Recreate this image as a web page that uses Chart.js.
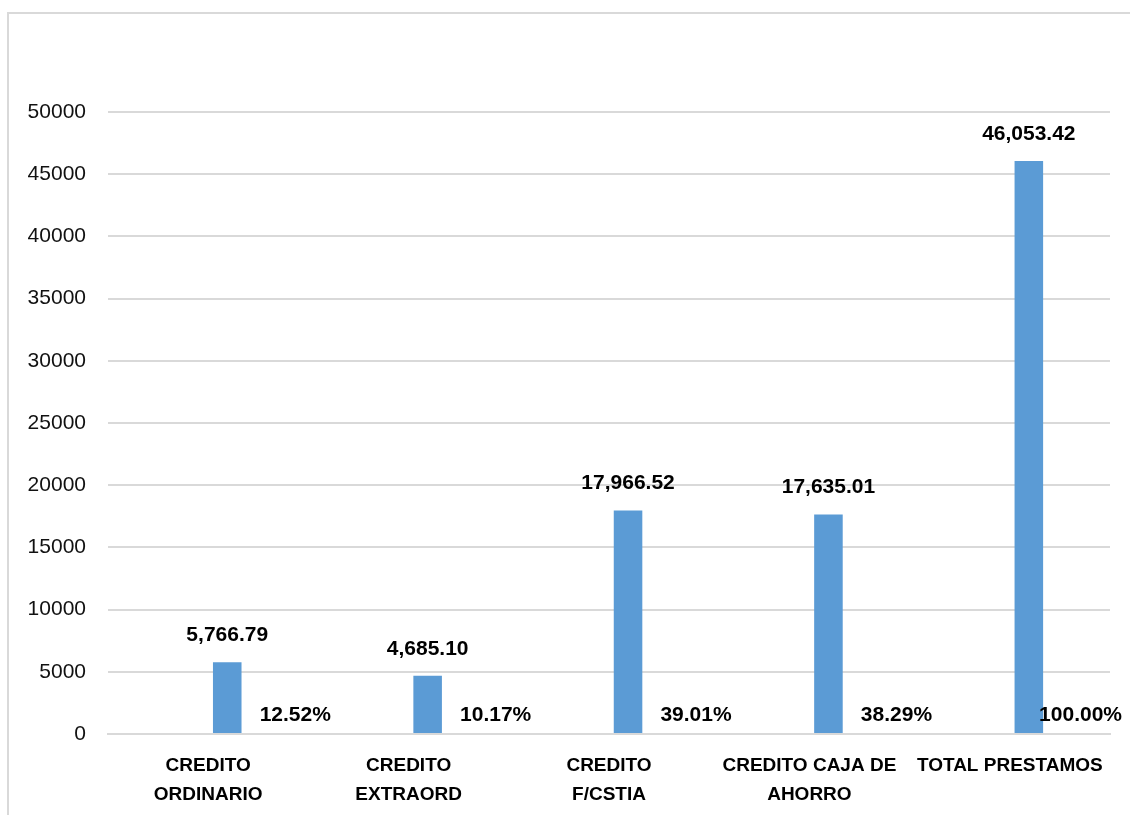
<!DOCTYPE html>
<html>
<head>
<meta charset="utf-8">
<script src="https://cdn.jsdelivr.net/npm/chart.js@4.4.0/dist/chart.umd.min.js"></script>
<style>
  html, body { margin: 0; padding: 0; background: #fff; overflow: hidden; }
  #frame {
    position: absolute; left: 7px; top: 12px; width: 1140px; height: 820px;
    border: 2px solid #d9d9d9; box-sizing: border-box;
  }
  #wrap { position: absolute; left: 0; top: 0; width: 1130px; height: 815px; }
</style>
</head>
<body>
<div id="frame"></div>
<div id="wrap"><canvas id="chart"></canvas></div>
<script>
// Categorias y valores
var categorias = [
    ['CREDITO', 'ORDINARIO'],
    ['CREDITO', 'EXTRAORD'],
    ['CREDITO', 'F/CSTIA'],
    ['CREDITO CAJA DE', 'AHORRO'],
    ['TOTAL PRESTAMOS']
];
var montos = [5766.79, 4685.10, 17966.52, 17635.01, 46053.42];
var porcentajes = [12.52, 10.17, 39.01, 38.29, 100.00];
var ticksY = [0, 5000, 10000, 15000, 20000, 25000, 30000, 35000, 40000, 45000, 50000];

// Etiquetas de datos (montos encima de la barra, porcentajes al lado)
var etiquetas = {
    id: 'etiquetas',
    afterDatasetsDraw: function(chart) {
        var ctx = chart.ctx;
        var area = chart.chartArea;
        var barras = chart.getDatasetMeta(1).data;
        ctx.save();
        ctx.fillStyle = '#000';
        ctx.textBaseline = 'middle';
        ctx.textAlign = 'center';
        barras.forEach(function(bar, i) {
            ctx.font = 'bold 21px "Liberation Sans", Arial, sans-serif';
            var txt = montos[i].toLocaleString('en-US', { minimumFractionDigits: 2, maximumFractionDigits: 2 });
            ctx.fillText(txt, bar.x, bar.y - 27);

            var pct = porcentajes[i].toFixed(2) + '%';
            var w = ctx.measureText(pct).width;
            var x = bar.x + 68;
            if (x + w / 2 > area.right + 12) x = area.right + 12 - w / 2;
            ctx.fillText(pct, x, area.bottom - 19);
        });
        ctx.restore();
    }
};

var ctx = document.getElementById('chart').getContext('2d');
var grafico = new Chart(ctx, {
    type: 'bar',
    data: {
        labels: categorias,
        datasets: [{
            label: 'Porcentaje',
            data: porcentajes,
            backgroundColor: 'rgba(0,0,0,0)',
            categoryPercentage: 0.38,
            barPercentage: 0.75
        }, {
            label: 'Monto',
            data: montos,
            backgroundColor: '#5b9bd5',
            categoryPercentage: 0.38,
            barPercentage: 0.75
        }]
    },
    options: {
        responsive: true,
        maintainAspectRatio: false,
        animation: false,
        layout: {
            padding: { top: 112, left: 28, right: 20, bottom: 0 }
        },
        plugins: {
            legend: { display: false },
            tooltip: { enabled: false }
        },
        scales: {
            x: {
                grid: { display: false, drawTicks: false },
                border: { color: '#d9d9d9', width: 2 },
                ticks: {
                    color: '#000',
                    padding: 18,
                    maxRotation: 0,
                    autoSkip: false,
                    font: { family: '"Liberation Sans", Arial, sans-serif', size: 19, weight: 'bold', lineHeight: 1.5 }
                },
                afterFit: function(scale) { scale.height = 81; }
            },
            y: {
                min: 0,
                max: 50000,
                afterBuildTicks: function(scale) {
                    scale.ticks = ticksY.map(function(v) { return { value: v }; });
                },
                grid: { color: '#d9d9d9', lineWidth: 2, drawTicks: false },
                border: { display: false },
                ticks: {
                    color: '#111',
                    padding: 22,
                    font: { family: '"Liberation Sans", Arial, sans-serif', size: 21 },
                    callback: function(value) { return String(value); }
                },
                afterFit: function(scale) { scale.width = 80; }
            }
        }
    },
    plugins: [etiquetas]
});
</script>
</body>
</html>
